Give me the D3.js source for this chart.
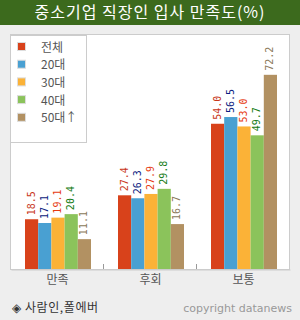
<!DOCTYPE html>
<html>
<head>
<meta charset="utf-8">
<script src="https://cdn.jsdelivr.net/npm/d3@7"></script>
<style>
  body { margin: 0; background: #eeeeee; }
  svg { display: block; font-family: "Noto Sans CJK KR", "Noto Sans", sans-serif; }
</style>
</head>
<body>
<div id="chart"></div>
<script>
// data
var categories = ["만족", "후회", "보통"];
var seriesNames = ["전체", "20대", "30대", "40대", "50대↑"];
var values = [
    [18.5, 27.4, 54.0],   // 전체
    [17.1, 26.3, 56.5],   // 20대
    [19.1, 27.9, 53.0],   // 30대
    [20.4, 29.8, 49.7],   // 40대
    [11.1, 16.7, 72.2]    // 50대↑
];
var barColors = ["#d8421b", "#49a0d2", "#fbb237", "#8bc35b", "#b29162"];
var labelColors = ["#c8361a", "#0a1a80", "#e63a12", "#137a12", "#8a7858"];

var W = 300, H = 320;
var plot = {left: 11, right: 290, top: 35, bottom: 269};

var svg = d3.select("#chart").append("svg")
    .attr("width", W)
    .attr("height", H);

svg.append("rect").attr("width", W).attr("height", H).attr("fill", "#eeeeee");

// title bar
svg.append("rect").attr("width", W).attr("height", 25).attr("fill", "#3c6a1d");
svg.append("text")
    .attr("x", W / 2).attr("y", 18)
    .attr("text-anchor", "middle")
    .attr("fill", "#ffffff")
    .attr("font-size", 16)
    .attr("letter-spacing", 1)
    .text("중소기업 직장인 입사 만족도(%)");

// plot panel
svg.append("rect")
    .attr("x", plot.left - 0.5).attr("y", plot.top - 0.5)
    .attr("width", plot.right - plot.left).attr("height", plot.bottom - plot.top + 1)
    .attr("fill", "#ffffff")
    .attr("stroke", "#cccccc");

var x0 = d3.scaleBand()
    .domain(categories)
    .range([plot.left, plot.right]);

var x1 = d3.scaleBand()
    .domain(d3.range(seriesNames.length))
    .range([14, x0.bandwidth() - 13]);

var y = d3.scaleLinear()
    .domain([0, 87])
    .range([plot.bottom, plot.top]);

// x axis
var xAxis = svg.append("g")
    .attr("transform", "translate(0," + (plot.bottom + 0.5) + ")")
    .call(d3.axisBottom(x0).tickSize(0).tickPadding(6));
xAxis.select(".domain").attr("stroke", "#cccccc");
xAxis.selectAll("text")
    .attr("font-size", 12)
    .attr("fill", "#555555")
    .attr("font-family", "Noto Sans CJK KR");

// small separator ticks between groups
svg.selectAll(".sep")
    .data(categories.slice(1))
    .enter().append("line")
    .attr("x1", function(d) { return x0(d) - 0.5; })
    .attr("x2", function(d) { return x0(d) - 0.5; })
    .attr("y1", plot.bottom - 5)
    .attr("y2", plot.bottom)
    .attr("stroke", "#999999");

// bars
var groups = svg.selectAll(".grp")
    .data(categories)
    .enter().append("g")
    .attr("transform", function(d) { return "translate(" + x0(d) + ",0)"; });

groups.each(function(cat, ci) {
    var g = d3.select(this);
    seriesNames.forEach(function(s, si) {
        var v = values[si][ci];
        g.append("rect")
            .attr("x", x1(si))
            .attr("y", y(v))
            .attr("width", x1.bandwidth())
            .attr("height", plot.bottom - y(v))
            .attr("fill", barColors[si]);
        var cx = x1(si) + x1.bandwidth() / 2;
        g.append("text")
            .attr("transform", "translate(" + (cx + 3) + "," + (y(v) - 4) + ") rotate(-90)")
            .attr("font-family", "DejaVu Sans Mono")
            .attr("font-size", 10)
            .attr("fill", labelColors[si])
            .text(v.toFixed(1));
    });
});

// legend
var lg = svg.append("g");
lg.append("rect")
    .attr("x", 10.5).attr("y", 35.5)
    .attr("width", 76).attr("height", 107)
    .attr("fill", "#ffffff")
    .attr("stroke", "#cccccc");

seriesNames.forEach(function(s, i) {
    var yy = 47 + i * 17.7;
    lg.append("rect")
        .attr("x", 17.5).attr("y", yy - 4.5)
        .attr("width", 8).attr("height", 8)
        .attr("fill", barColors[i])
        .attr("stroke", "#dddddd");
    lg.append("text")
        .attr("x", 41).attr("y", yy + 4.5)
        .attr("font-size", 12)
        .attr("fill", "#555555")
        .text(s);
});

// footer
svg.append("text")
    .attr("x", 12).attr("y", 312)
    .attr("font-size", 12)
    .attr("letter-spacing", 0.6)
    .attr("fill", "#333333")
    .text("◈ 사람인,폴에버");

svg.append("text")
    .attr("x", 292).attr("y", 312)
    .attr("text-anchor", "end")
    .attr("font-size", 11)
    .attr("font-family", "DejaVu Sans")
    .attr("fill", "#999999")
    .text("copyright datanews");
</script>
</body>
</html>
